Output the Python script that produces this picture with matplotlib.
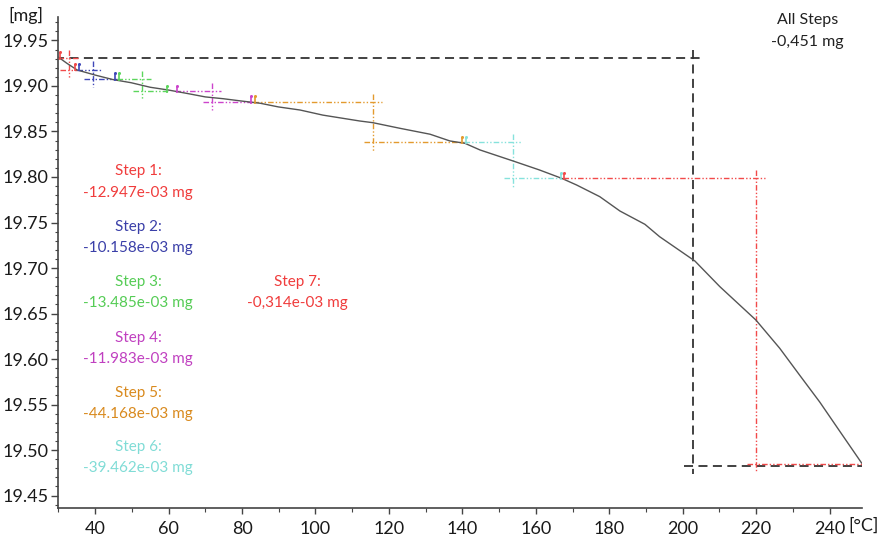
import matplotlib
matplotlib.use("Agg")
import matplotlib.pyplot as plt
from matplotlib.ticker import MultipleLocator, FormatStrFormatter

plt.rcParams['font.family'] = ['Lato', 'DejaVu Sans']

# ---- data ----
temp = [29.9, 32.3, 35.1, 40.0, 44.9, 49.8, 55.0, 59.9, 64.8, 70.0, 74.9,
        79.8, 85.0, 89.9, 95.8, 102.0, 112.1, 115.6, 123.0, 131.2, 136.6, 140.7,
        144.8, 153.8, 161.0, 167.0, 171.1, 177.4, 182.9, 189.7, 193.7, 203.3,
        210.1, 219.9, 226.4, 231.8, 237.3, 242.7, 248.7]
mass = [19.932, 19.925, 19.9176, 19.912, 19.907, 19.9036, 19.8986, 19.8956, 19.892,
        19.888, 19.886, 19.8835, 19.881, 19.877, 19.8736, 19.868, 19.8615,
        19.8597, 19.8535, 19.847, 19.8396, 19.837, 19.8297, 19.8176, 19.8077,
        19.7986, 19.7912, 19.7784, 19.7626, 19.748, 19.7344, 19.7077, 19.6795,
        19.6429, 19.6118, 19.5824, 19.5527, 19.5209, 19.4857]

step_names = ["Step 1:", "Step 2:", "Step 3:", "Step 4:", "Step 5:", "Step 6:", "Step 7:"]
step_values = ["-12.947e-03 mg", "-10.158e-03 mg", "-13.485e-03 mg", "-11.983e-03 mg",
               "-44.168e-03 mg", "-39.462e-03 mg", "-0,314e-03 mg"]
step_start = [30.0, 35.1, 46.0, 61.8, 83.0, 140.5, 167.3]
step_end = [35.1, 46.0, 60.0, 83.0, 140.5, 167.3, 248.7]
step_mid = [32.9, 39.5, 52.7, 71.8, 115.6, 153.7, 219.9]
level_start = [19.931, 19.918, 19.908, 19.8945, 19.8825, 19.838, 19.7985]
level_end = [19.918, 19.908, 19.8945, 19.8825, 19.838, 19.7985, 19.4845]

all_name = "All Steps"
all_value = "-0,451 mg"
all_start = 29.0
all_end = 248.7
all_mid = 202.8
all_level_start = 19.931
all_level_end = 19.4827

x_label = "[°C]"
y_label = "[mg]"

# ---- styles / layout ----
line_colors = ['#f24a4a', '#4048b8', '#5cd65c', '#cc44cc', '#e39a2e', '#86e2dc', '#f24a4a']
text_colors = ['#f03c3c', '#3a3fa8', '#55cc55', '#c040c0', '#d98a1e', '#80dcd6', '#f03c3c']
text_pos = [(51.7, 19.8066, 19.7824), (51.7, 19.745, 19.722), (51.7, 19.6846, 19.6615),
            (51.7, 19.623, 19.600), (51.7, 19.5626, 19.5396), (51.7, 19.5033, 19.480),
            (95.0, 19.6846, 19.6615)]
ext_x = 2.4
ext_y = 0.009
ddot = (0, (4, 1.5, 1, 1.5, 1, 1.5))

fig = plt.figure(figsize=(8.8, 5.41), dpi=100)
ax = fig.add_axes([58 / 880, 33 / 541, (862 - 58) / 880, (508 - 17) / 541])
ax.set_xlim(29.9, 248.8)
ax.set_ylim(19.4363, 19.9758)

# black "all steps" construction
bk = '#333333'
ax.plot([all_start, all_mid + ext_x], [all_level_start] * 2, color=bk, lw=1.3,
        ls=(0, (5, 3)), zorder=2)
ax.plot([all_mid, all_mid], [all_level_start + ext_y, all_level_end - ext_y],
        color=bk, lw=1.3, ls=(0, (5, 3)), zorder=2)
ax.plot([all_mid - ext_x, all_end], [all_level_end] * 2, color=bk, lw=1.3,
        ls=(0, (5, 3)), zorder=2)

# coloured step constructions
for i in range(len(step_names)):
    c = line_colors[i]
    ax.plot([step_start[i], step_mid[i] + ext_x], [level_start[i]] * 2, color=c,
            lw=1.0, ls=ddot, zorder=3)
    ax.plot([step_mid[i], step_mid[i]], [level_start[i] + ext_y, level_end[i] - ext_y],
            color=c, lw=1.0, ls=ddot, zorder=3)
    ax.plot([step_mid[i] - ext_x, step_end[i]], [level_end[i]] * 2, color=c,
            lw=1.0, ls=ddot, zorder=3)
    # little boundary flags
    for tb, lv, dx in ((step_start[i], level_start[i], 0.5), (step_end[i], level_end[i], -0.5)):
        if tb > 248:
            continue
        ax.plot([tb + dx, tb + dx], [lv - 0.002, lv + 0.006], color=c, lw=1.2, zorder=5,
                solid_capstyle='butt')
        ax.plot([tb + dx], [lv + 0.006], marker='o', ms=2.2, color=c, mew=0, zorder=5)

# curve
ax.plot(temp, mass, color='#555555', lw=1.0, zorder=4)

# texts
for i in range(len(step_names)):
    x, y1, y2 = text_pos[i]
    ax.text(x, y1, step_names[i], color=text_colors[i], fontsize=11, ha='center', va='center')
    ax.text(x, y2, step_values[i], color=text_colors[i], fontsize=11, ha='center', va='center')
ax.text(234.0, 19.9725, all_name, color='#222222', fontsize=11.5, ha='center', va='center')
ax.text(234.0, 19.9484, all_value, color='#222222', fontsize=11.5, ha='center', va='center')

# axes styling
for s in ('top', 'right'):
    ax.spines[s].set_visible(False)
for s in ('left', 'bottom'):
    ax.spines[s].set_color('#444444')
    ax.spines[s].set_linewidth(1.2)

ax.xaxis.set_major_locator(MultipleLocator(20))
ax.xaxis.set_minor_locator(MultipleLocator(10))
ax.yaxis.set_major_locator(MultipleLocator(0.05))
ax.yaxis.set_minor_locator(MultipleLocator(0.01))
ax.yaxis.set_major_formatter(FormatStrFormatter('%.2f'))
ax.set_xticks([40, 60, 80, 100, 120, 140, 160, 180, 200, 220, 240])
ax.tick_params(axis='y', which='major', length=5, width=1, pad=2, labelsize=13,
               colors='#444444', labelcolor='#1a1a1a')
ax.tick_params(axis='y', which='minor', length=2.5, width=0.8, colors='#444444')
ax.tick_params(axis='x', which='major', length=4, width=1, pad=5, labelsize=13,
               colors='#444444', labelcolor='#1a1a1a')
ax.tick_params(axis='x', which='minor', length=3, width=0.8, colors='#444444')

fig.text(8 / 880, 1 - 15 / 541, y_label, fontsize=13, color='#1a1a1a', ha='left', va='center')
fig.text(848 / 880, 1 - 526 / 541, x_label, fontsize=13, color='#1a1a1a', ha='left', va='center')

fig.savefig('out.png', dpi=100)
